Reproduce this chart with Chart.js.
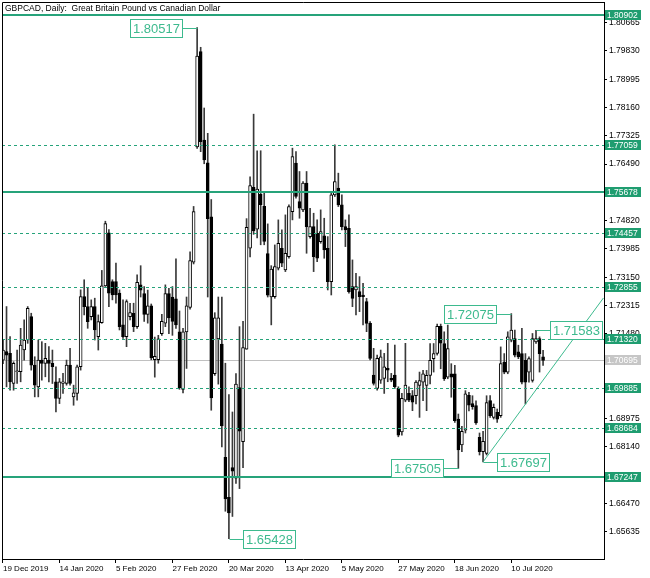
<!DOCTYPE html>
<html>
<head>
<meta charset="utf-8">
<script src="https://cdn.jsdelivr.net/npm/chart.js@4.4.1/dist/chart.umd.min.js"></script>
<style>
  html, body { margin: 0; padding: 0; background: #fff; }
</style>
</head>
<body>
<canvas id="c" width="650" height="578"></canvas>
<script>
// GBPCAD daily candles, 19 Dec 2019 .. late Jul 2020
const opens = [
  1.70703,1.70950,1.70900,1.70011,1.70357,1.70357,1.70999,1.71295,1.71987,1.70555,
  1.69912,1.70703,1.70604,1.70703,1.70604,1.70061,1.69567,1.70011,1.70011,1.70555,
  1.69616,1.69715,1.70505,1.72580,1.72283,1.71987,1.72283,1.71394,1.71809,1.72896,
  1.74457,1.73024,1.73024,1.72679,1.71740,1.71394,1.71987,1.72086,1.71691,1.72924,
  1.72667,1.72050,1.72307,1.70713,1.70713,1.71485,1.71793,1.72667,1.72565,1.72513,
  1.71536,1.69839,1.71536,1.72256,1.73593,1.77000,1.79809,1.77201,1.76524,1.74930,
  1.70302,1.71330,1.71176,1.67834,1.66651,1.67525,1.67216,1.69890,1.68296,1.71022,
  1.74004,1.75804,1.74570,1.75599,1.75239,1.73850,1.72565,1.72576,1.73413,1.74004,
  1.73364,1.73758,1.75088,1.76517,1.75384,1.75138,1.75926,1.74349,1.74645,1.74448,
  1.74202,1.74369,1.74004,1.73019,1.75581,1.75778,1.75286,1.74645,1.74596,1.72871,
  1.72773,1.72724,1.72625,1.72428,1.71788,1.70261,1.69866,1.70113,1.70162,1.70458,
  1.70162,1.70261,1.69866,1.68585,1.69521,1.69718,1.69655,1.69655,1.69952,1.70052,
  1.69952,1.70250,1.70745,1.70900,1.71700,1.71191,1.70200,1.70299,1.70299,1.68960,
  1.68200,1.68636,1.69660,1.69420,1.69360,1.68420,1.68000,1.67950,1.69507,1.69011,
  1.69160,1.69061,1.70646,1.70349,1.71290,1.71340,1.70943,1.70894,1.70696,1.70349,
  1.70101,1.71241,1.71340,1.70795
];
const highs = [
  1.71300,1.72283,1.71394,1.70653,1.70999,1.71641,1.71888,1.72283,1.72086,1.70801,
  1.71295,1.71246,1.71197,1.71098,1.70999,1.70505,1.70160,1.70308,1.70703,1.71049,
  1.69962,1.70555,1.72777,1.73074,1.72827,1.72481,1.72530,1.72036,1.73350,1.74803,
  1.74556,1.73074,1.73568,1.72777,1.72481,1.72481,1.72382,1.72382,1.73222,1.73490,
  1.72873,1.72770,1.72359,1.71382,1.71433,1.72050,1.72924,1.72821,1.72873,1.73696,
  1.72153,1.71639,1.72565,1.73901,1.75239,1.80517,1.79939,1.78146,1.77398,1.75444,
  1.72102,1.72565,1.72565,1.70610,1.69685,1.69170,1.70302,1.71690,1.71844,1.74879,
  1.76113,1.77964,1.76884,1.76884,1.75650,1.74724,1.73490,1.74103,1.74842,1.74546,
  1.74990,1.75286,1.76960,1.76862,1.76271,1.75975,1.76271,1.75187,1.75039,1.74842,
  1.75138,1.74891,1.74349,1.75630,1.77059,1.76222,1.75581,1.74842,1.74990,1.73660,
  1.73265,1.73167,1.72970,1.72527,1.71837,1.71049,1.70852,1.70999,1.70901,1.71197,
  1.70310,1.71147,1.69915,1.69718,1.71197,1.69915,1.69804,1.70101,1.70349,1.70398,
  1.70398,1.71191,1.71191,1.71766,1.71766,1.71538,1.71736,1.70596,1.70547,1.69110,
  1.68750,1.69800,1.69750,1.69650,1.69500,1.68550,1.68600,1.69650,1.69655,1.69407,
  1.69259,1.71092,1.70894,1.71538,1.72075,1.71588,1.71142,1.71637,1.70894,1.70795,
  1.71488,1.71583,1.71389,1.70993
];
const lows = [
  1.70600,1.69912,1.69813,1.69813,1.70011,1.70061,1.70703,1.71197,1.70406,1.69616,
  1.69616,1.70110,1.70209,1.70061,1.70011,1.69171,1.69418,1.69715,1.69962,1.69962,
  1.69369,1.69517,1.70406,1.72036,1.71641,1.71888,1.71295,1.70999,1.71789,1.72876,
  1.72283,1.72481,1.72382,1.71592,1.71345,1.71098,1.71888,1.71543,1.71641,1.72565,
  1.71844,1.71793,1.70713,1.70199,1.70610,1.71433,1.71690,1.71485,1.71433,1.71639,
  1.69839,1.69736,1.70456,1.72205,1.73541,1.76950,1.76856,1.76500,1.72565,1.69222,
  1.70250,1.69993,1.68142,1.66239,1.65428,1.66085,1.67062,1.66908,1.67525,1.71022,
  1.73747,1.74416,1.74313,1.74107,1.74107,1.72565,1.71742,1.72527,1.73364,1.73463,
  1.73315,1.73709,1.74842,1.75483,1.74891,1.75088,1.73857,1.74300,1.73315,1.73610,
  1.74152,1.73709,1.72773,1.72625,1.75532,1.75236,1.74546,1.74054,1.72680,1.72280,
  1.72034,1.72133,1.71739,1.71541,1.70704,1.69965,1.69817,1.70014,1.69718,1.70063,
  1.70063,1.69866,1.68438,1.68487,1.69472,1.69472,1.69209,1.69407,1.69011,1.69507,
  1.69209,1.70002,1.70349,1.70850,1.70447,1.70101,1.70151,1.69606,1.68862,1.67505,
  1.68000,1.68550,1.69200,1.69250,1.68800,1.67900,1.67697,1.67900,1.69011,1.68961,
  1.68862,1.69011,1.70299,1.70299,1.71241,1.70795,1.70745,1.70002,1.69407,1.70052,
  1.70052,1.71191,1.70349,1.70547
];
const closes = [
  1.70999,1.70850,1.70061,1.70604,1.70382,1.71147,1.71295,1.72234,1.70555,1.69962,
  1.70703,1.70604,1.70752,1.70604,1.70505,1.69567,1.70061,1.70061,1.70555,1.70011,
  1.69734,1.70505,1.72580,1.72283,1.71839,1.72283,1.71592,1.71839,1.72896,1.74734,
  1.72679,1.72629,1.72629,1.71691,1.71394,1.72432,1.72106,1.71691,1.72995,1.72770,
  1.72050,1.72307,1.70765,1.70816,1.71330,1.71844,1.72667,1.71947,1.71844,1.71742,
  1.69890,1.71536,1.72307,1.73644,1.75084,1.79682,1.77151,1.76610,1.74879,1.69582,
  1.71947,1.71947,1.68759,1.66600,1.66188,1.67422,1.69993,1.68605,1.71073,1.74621,
  1.75856,1.74519,1.75753,1.75290,1.74210,1.72616,1.73387,1.73463,1.74152,1.73561,
  1.73857,1.75236,1.76714,1.75532,1.75187,1.75926,1.74645,1.74645,1.73758,1.73709,
  1.74497,1.73955,1.73019,1.75581,1.75975,1.75286,1.74645,1.74546,1.72724,1.72527,
  1.72871,1.72576,1.72576,1.71788,1.70753,1.70014,1.70753,1.70802,1.70507,1.70408,
  1.70113,1.69915,1.68487,1.69571,1.69965,1.69521,1.69457,1.70052,1.70101,1.70299,
  1.70250,1.70696,1.70894,1.71700,1.71200,1.70151,1.71043,1.70200,1.68912,1.68050,
  1.68600,1.69709,1.69368,1.69330,1.68850,1.68000,1.68300,1.69450,1.69061,1.69308,
  1.68961,1.70596,1.70349,1.71389,1.71588,1.70844,1.70795,1.70052,1.70052,1.70745,
  1.71340,1.71340,1.70894,1.70695
];

// time axis: one label every 16 bars
const dateLabels = ['19 Dec 2019', '14 Jan 2020', '5 Feb 2020', '27 Feb 2020', '20 Mar 2020',
  '13 Apr 2020', '5 May 2020', '27 May 2020', '18 Jun 2020', '10 Jul 2020'];
const dateTickIdx = [0, 16, 32, 48, 64, 80, 96, 112, 128, 144];

// price axis
const priceTicks = [1.65635, 1.66470, 1.68140, 1.68975, 1.71480, 1.72315, 1.73150, 1.73985,
  1.74820, 1.76490, 1.77325, 1.78160, 1.78995, 1.79830, 1.80665];

// horizontal levels
const levelsSolid = [1.80902, 1.75678, 1.67247];
const levelsDashed = [1.77059, 1.74457, 1.72855, 1.71320, 1.69885, 1.68684];
const bidPrice = 1.70695;

// swing high / low notes
const markIdx = [55, 64, 144, 151, 129, 136];
const markPrice = [1.80517, 1.65428, 1.72075, 1.71583, 1.67505, 1.67697];
const markSide = ['left', 'right', 'left', 'right', 'left', 'right'];

// rising trend line from the 1.67697 low
const trendIdx = [136, 170.1];
const trendPrice = [1.67697, 1.72536];

const TITLE = 'GBPCAD, Daily:  Great Britain Pound vs Canadian Dollar';
const LINE = '#26a37a';
const TAG = '#1f9d70';
const NOTE = '#3dba8e';
const FONT = '"Liberation Sans", Arial, sans-serif';

Chart.defaults.font.family = FONT;

const idx = opens.map((_, i) => i);
const bodies = idx.map(i => ({ x: i, y: [Math.min(opens[i], closes[i]), Math.max(opens[i], closes[i])] }));
const wicks = idx.map(i => ({ x: i, y: [lows[i], highs[i]] }));
const upBar = idx.map(i => closes[i] >= opens[i]);

const overlay = {
  id: 'overlay',
  beforeDatasetsDraw(chart) {
    const { ctx, chartArea: a, scales: { y } } = chart;
    const py = Math.round(y.getPixelForValue(bidPrice)) + 0.5;
    ctx.save();
    ctx.strokeStyle = '#c0c0c0';
    ctx.lineWidth = 1;
    ctx.beginPath(); ctx.moveTo(a.left, py); ctx.lineTo(a.right, py); ctx.stroke();
    ctx.restore();
  },
  afterDatasetsDraw(chart) {
    const { ctx, chartArea: a, scales: { y } } = chart;
    ctx.save();
    const hline = (p, w, dash) => {
      const py = Math.round(y.getPixelForValue(p)) + (w % 2 ? 0.5 : 0);
      ctx.lineWidth = w;
      ctx.strokeStyle = LINE;
      ctx.setLineDash(dash);
      ctx.beginPath(); ctx.moveTo(a.left, py); ctx.lineTo(a.right, py); ctx.stroke();
    };
    levelsDashed.forEach(p => hline(p, 1, [3, 3]));
    levelsSolid.forEach(p => hline(p, 2, []));
    ctx.restore();
  },
  afterDraw(chart) {
    const { ctx, chartArea: a, scales: { x, y } } = chart;
    ctx.save();

    // frame top + left
    ctx.strokeStyle = '#000';
    ctx.lineWidth = 1;
    ctx.beginPath();
    ctx.moveTo(a.left + 0.5, a.bottom);
    ctx.lineTo(a.left + 0.5, a.top + 0.5);
    ctx.lineTo(a.right, a.top + 0.5);
    ctx.stroke();

    // title
    ctx.fillStyle = '#000';
    ctx.font = '8.5px ' + FONT;
    ctx.textAlign = 'left';
    ctx.textBaseline = 'middle';
    ctx.fillText(TITLE, a.left + 3, a.top + 7);

    // price tags on the axis
    ctx.font = '8.5px ' + FONT;
    const tag = (p, bg) => {
      const py = Math.round(y.getPixelForValue(p));
      ctx.fillStyle = bg;
      ctx.fillRect(a.right + 1, py - 5, 36, 10);
      ctx.fillStyle = '#fff';
      ctx.fillText(p.toFixed(5), a.right + 3, py + 0.5);
    };
    levelsSolid.concat(levelsDashed).forEach(p => tag(p, TAG));
    tag(bidPrice, '#c6c6c6');

    // high / low notes
    ctx.font = '13px ' + FONT;
    markIdx.forEach((m, k) => {
      const px = Math.round(x.getPixelForValue(m)) + 0.5;
      const py = Math.round(y.getPixelForValue(markPrice[k])) + 0.5;
      const txt = markPrice[k].toFixed(5);
      const w = Math.round(ctx.measureText(txt).width) + 6;
      const h = 18;
      const bx = markSide[k] === 'left' ? Math.round(px) - 15 - w : Math.round(px) + 13;
      ctx.strokeStyle = NOTE;
      ctx.beginPath();
      if (markSide[k] === 'left') { ctx.moveTo(bx + w, py); ctx.lineTo(px, py); }
      else { ctx.moveTo(px, py); ctx.lineTo(bx, py); }
      ctx.stroke();
      ctx.fillStyle = '#fff';
      ctx.fillRect(bx, py - h / 2, w, h);
      ctx.strokeRect(bx + 0.5, py - h / 2, w - 1, h);
      ctx.fillStyle = NOTE;
      ctx.textAlign = 'center';
      ctx.fillText(txt, bx + w / 2, py + 1);
      ctx.textAlign = 'left';
    });
    ctx.restore();
  }
};

new Chart(document.getElementById('c'), {
  type: 'bar',
  data: {
    datasets: [
      {
        type: 'line',
        data: trendIdx.map((v, i) => ({ x: v, y: trendPrice[i] })),
        borderColor: NOTE,
        borderWidth: 1,
        pointRadius: 0,
        order: 0
      },
      {
        data: bodies,
        backgroundColor: upBar.map(u => u ? '#ffffff' : '#000000'),
        borderColor: '#000',
        borderWidth: 1,
        borderSkipped: false,
        barThickness: 3,
        minBarLength: 1,
        grouped: false,
        order: 1
      },
      {
        data: wicks,
        backgroundColor: '#3a3a3a',
        borderWidth: 0,
        barThickness: 1,
        grouped: false,
        order: 2
      }
    ]
  },
  options: {
    responsive: false,
    animation: false,
    devicePixelRatio: 1,
    layout: { padding: { left: 2, top: 2, right: 0, bottom: 0 } },
    plugins: { legend: { display: false }, tooltip: { enabled: false } },
    scales: {
      x: {
        type: 'linear',
        min: -0.28,
        max: 170.26,
        offset: false,
        grid: { display: true, drawOnChartArea: false, offset: false, tickLength: 4, color: '#000' },
        border: { display: true, color: '#000' },
        ticks: {
          align: 'start',
          maxRotation: 0,
          autoSkip: false,
          padding: 1,
          color: '#000',
          font: { size: 8 },
          callback: (v, i) => dateLabels[i]
        },
        afterBuildTicks: s => { s.ticks = dateTickIdx.map(v => ({ value: v })); },
        afterFit: s => { s.height = 19; s.paddingLeft = 0; s.paddingRight = 0; }
      },
      y: {
        position: 'right',
        min: 1.64829,
        max: 1.81276,
        grid: { display: true, drawOnChartArea: false, tickLength: 3, color: '#000' },
        border: { display: true, color: '#000' },
        ticks: {
          autoSkip: false,
          padding: 2,
          color: '#000',
          font: { size: 8.5 },
          callback: v => Number(v).toFixed(5)
        },
        afterBuildTicks: s => { s.ticks = priceTicks.map(v => ({ value: v })); },
        afterFit: s => { s.width = 46; s.paddingTop = 0; s.paddingBottom = 0; }
      }
    }
  },
  plugins: [overlay]
});
</script>
</body>
</html>
